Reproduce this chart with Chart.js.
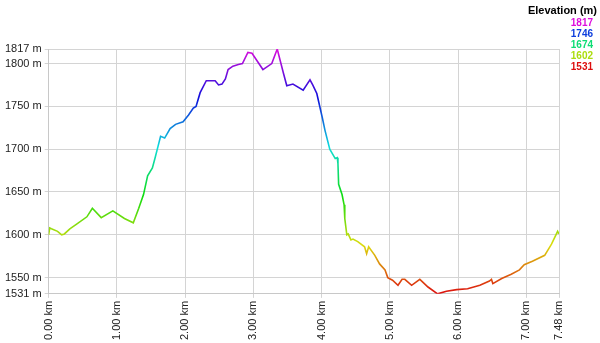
<!DOCTYPE html>
<html>
<head>
<meta charset="utf-8">
<script src="https://cdn.jsdelivr.net/npm/chart.js@4/dist/chart.umd.min.js"></script>
<style>
  html, body { margin: 0; padding: 0; background: #fff; }
  #wrap { width: 600px; height: 343px; position: relative; }
</style>
</head>
<body>
<div id="wrap"><canvas id="profile"></canvas></div>
<script>
// distance along the track (km) and elevation (m)
const distances = [
  0.00, 0.015, 0.04, 0.13, 0.19, 0.23, 0.31, 0.42, 0.56, 0.64,
  0.77, 0.94, 1.11, 1.24, 1.32, 1.39, 1.45, 1.52, 1.56, 1.64,
  1.70, 1.78, 1.86, 1.97, 2.05, 2.12, 2.16, 2.22, 2.31, 2.44,
  2.49, 2.54, 2.59, 2.63, 2.70, 2.78, 2.84, 2.92, 2.98, 3.14,
  3.27, 3.35, 3.44, 3.49, 3.58, 3.73, 3.83, 3.87, 3.93, 4.01,
  4.05, 4.12, 4.20, 4.23, 4.24, 4.25, 4.30, 4.33, 4.34, 4.37,
  4.39, 4.43, 4.46, 4.53, 4.63, 4.66, 4.69, 4.78, 4.85, 4.93,
  4.97, 5.04, 5.12, 5.18, 5.22, 5.32, 5.44, 5.56, 5.70, 5.83,
  5.98, 6.14, 6.32, 6.46, 6.49, 6.51, 6.64, 6.78, 6.90, 6.97,
  7.09, 7.27, 7.37, 7.46, 7.48
];
const elevations = [
  1600, 1608, 1607, 1604, 1600, 1601, 1607, 1613, 1621, 1631,
  1620, 1628, 1619, 1614, 1631, 1647, 1669, 1678, 1690, 1715,
  1713, 1724, 1729, 1732, 1740, 1748, 1750, 1766, 1780, 1780,
  1775, 1776, 1782, 1793, 1797, 1799, 1800, 1813, 1812, 1793,
  1800, 1817, 1789, 1774, 1776, 1769, 1781, 1775, 1765, 1737,
  1722, 1700, 1689, 1690, 1683, 1659, 1647, 1635, 1619, 1600,
  1601, 1594, 1595, 1592, 1586, 1578, 1586, 1576, 1566, 1559,
  1550, 1547, 1541, 1548, 1548, 1541, 1548, 1539, 1531, 1534,
  1536, 1537, 1541, 1546, 1548, 1543, 1549, 1554, 1559, 1565,
  1569, 1576, 1589, 1604, 1601
];

const yTicks = [1531, 1550, 1600, 1650, 1700, 1750, 1800, 1817];
const xTicks = [0, 1, 2, 3, 4, 5, 6, 7, 7.48];
const legendValues = [1817, 1746, 1674, 1602, 1531];
const minElev = 1531;
const maxElev = 1817;

const FONT = '"Liberation Sans", Arial, sans-serif';

// red at the lowest point, through yellow, green, cyan, blue, up to magenta
function elevColor(v) {
  const hue = (v - minElev) / (maxElev - minElev) * 300;
  return `hsl(${hue.toFixed(0)}, 88%, 46%)`;
}

function lineGradient(context) {
  const { chart } = context;
  const { ctx, chartArea, scales } = chart;
  if (!chartArea) return elevColor(1600);
  const y0 = scales.y.getPixelForValue(minElev);
  const y1 = scales.y.getPixelForValue(maxElev);
  const g = ctx.createLinearGradient(0, y0, 0, y1);
  for (let i = 0; i <= 10; i++) {
    g.addColorStop(i / 10, elevColor(minElev + (maxElev - minElev) * i / 10));
  }
  return g;
}

const legendPlugin = {
  id: 'elevLegend',
  afterDraw(chart) {
    const ctx = chart.ctx;
    ctx.save();
    ctx.textAlign = 'right';
    ctx.textBaseline = 'middle';
    ctx.font = `bold 11px ${FONT}`;
    ctx.fillStyle = '#000';
    ctx.fillText('Elevation (m)', 597, 11);
    ctx.font = `bold 10px ${FONT}`;
    legendValues.forEach((v, i) => {
      ctx.fillStyle = elevColor(v);
      ctx.fillText(String(v), 593, 23 + i * 11);
    });
    ctx.restore();
  }
};

new Chart(document.getElementById('profile'), {
  type: 'line',
  data: {
    datasets: [
      {
        label: 'Elevation',
        data: distances.map((d, i) => ({ x: d, y: elevations[i] })),
        borderColor: lineGradient,
        borderWidth: 1.6,
        pointRadius: 0,
        tension: 0,
        fill: false,
      },
    ],
  },
  options: {
    responsive: true,
    maintainAspectRatio: false,
    animation: false,
    layout: { padding: { top: 49, right: 41, left: 2, bottom: 0 } },
    plugins: {
      legend: { display: false },
      tooltip: { enabled: false },
    },
    scales: {
      x: {
        type: 'linear',
        min: 0,
        max: 7.48,
        afterBuildTicks: (axis) => {
          axis.ticks = xTicks.map((v) => ({ value: v }));
        },
        ticks: {
          autoSkip: false,
          minRotation: 90,
          maxRotation: 90,
          color: '#222',
          font: { family: FONT, size: 11 },
          padding: 3,
          callback: (v) => Number(v).toFixed(2) + ' km',
        },
        grid: { color: '#d4d4d4', tickLength: 4 },
        border: { color: '#c8c8c8' },
      },
      y: {
        min: minElev,
        max: maxElev,
        afterBuildTicks: (axis) => {
          axis.ticks = yTicks.map((v) => ({ value: v }));
        },
        ticks: {
          color: '#222',
          font: { family: FONT, size: 11 },
          padding: 3,
          callback: (v) => v + ' m',
        },
        grid: { color: '#d4d4d4', tickLength: 4 },
        border: { color: '#c8c8c8' },
      },
    },
  },
  plugins: [legendPlugin],
});
</script>
</body>
</html>
